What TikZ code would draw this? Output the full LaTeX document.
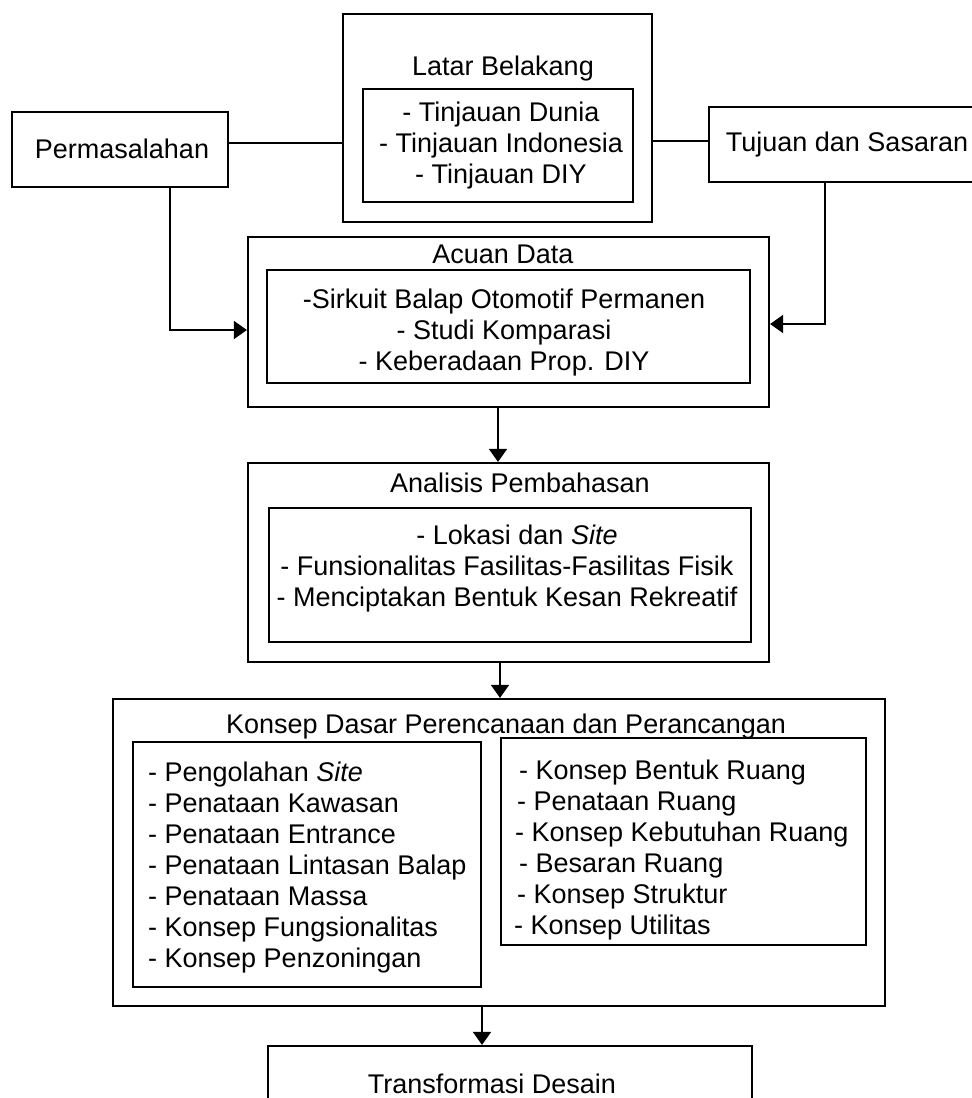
\documentclass[tikz,border=0pt]{standalone}
\usepackage{fontspec}
\setmainfont{Liberation Sans}
\usetikzlibrary{arrows.meta,calc}
\begin{document}
\begin{tikzpicture}[x=1pt,y=-1pt,
  every node/.style={font=\fontsize{27}{31}\selectfont, inner sep=0pt},
  bx/.style 2 args={draw, line width=2.2pt, rectangle, minimum width=#1, minimum height=#2, inner sep=0pt},
  con/.style={line width=1.8pt},
  arr/.style={line width=1.8pt, -{Triangle[length=13pt,width=18pt]}},
  txt/.style={align=center, anchor=center},
  ltxt/.style={align=left, anchor=west}]
\useasboundingbox (0,0) rectangle (972,1098);
\clip (0,0) rectangle (972,1098);
% boxes
\node[bx={216pt}{75pt}] (perm) at (120,149.5) {};
\node[bx={309pt}{208pt}] (latar) at (497.5,118) {};
\node[bx={270pt}{113pt}] (latarin) at (498,145.5) {};
\node[bx={276pt}{75pt}] (tuj) at (847,144.5) {};
\node[bx={521pt}{170pt}] (acuan) at (508.5,322) {};
\node[bx={483pt}{113pt}] (acuanin) at (508.5,326.5) {};
\node[bx={521pt}{199pt}] (anal) at (508.5,562.5) {};
\node[bx={482pt}{134pt}] (analin) at (510,575) {};
\node[bx={772pt}{307pt}] (konsep) at (499,852.5) {};
\node[bx={348pt}{245pt}] (kl) at (307,864.5) {};
\node[bx={365pt}{207pt}] (kr) at (683.5,841.5) {};
\node[bx={484pt}{84pt}] (trans) at (510,1088) {};
% texts
\node[txt] (tperm) at (122,149) {Permasalahan};
\node[txt] (tlatar) at (503,69) {Latar Belakang};
\node[txt] (tlatarin) at (501,146) {- Tinjauan Dunia\\- Tinjauan Indonesia\\- Tinjauan DIY};
\node[txt] (ttuj) at (847,145) {Tujuan dan Sasaran};
\node[txt] (tacuan) at (503,254) {Acuan Data};
\node[txt] (tacuanin) at (504,333) {-Sirkuit Balap Otomotif Permanen\\- Studi Komparasi\\- Keberadaan Prop. DIY};
\node[txt] (tanal) at (520,483) {Analisis Pembahasan};
\node[txt] (tanalin) at (507,569) {\hspace*{20pt}- Lokasi dan \textit{Site}\\- Funsionalitas Fasilitas-Fasilitas Fisik\\- Menciptakan Bentuk Kesan Rekreatif};
\node[txt] (tkonsep) at (506,727) {Konsep Dasar Perencanaan dan Perancangan};
\node[ltxt] (tkl) at (148,868) {- Pengolahan \textit{Site}\\- Penataan Kawasan\\- Penataan Entrance\\- Penataan Lintasan Balap\\- Penataan Massa\\- Konsep Fungsionalitas\\- Konsep Penzoningan};
\node[ltxt] (tkr) at (514,850) {\hspace*{5pt}- Konsep Bentuk Ruang\\\hspace*{3pt}- Penataan Ruang\\\hspace*{1pt}- Konsep Kebutuhan Ruang\\\hspace*{5pt}- Besaran Ruang\\\hspace*{3pt}- Konsep Struktur\\- Konsep Utilitas};
\node[txt] (ttrans) at (492,1084) {Transformasi Desain};
% connectors
\coordinate (y1) at (0,143);
\coordinate (y2) at (0,141);
\draw[con] (perm.east |- y1) -- (latar.west |- y1);
\draw[con] (latar.east |- y2) -- (tuj.west |- y2);
\coordinate (c1) at (170,330);
\draw[arr] (perm.south -| c1) -- (c1) -- (c1 -| acuan.west);
\coordinate (c2) at (825,324);
\draw[arr] (tuj.south -| c2) -- (c2) -- (c2 -| acuan.east);
\coordinate (c3) at (498,0);
\draw[arr] (acuan.south -| c3) -- (anal.north -| c3);
\coordinate (c4) at (500,0);
\draw[arr] (anal.south -| c4) -- (konsep.north -| c4);
\coordinate (c5) at (482,0);
\draw[arr] (konsep.south -| c5) -- (trans.north -| c5);
\end{tikzpicture}
\end{document}
